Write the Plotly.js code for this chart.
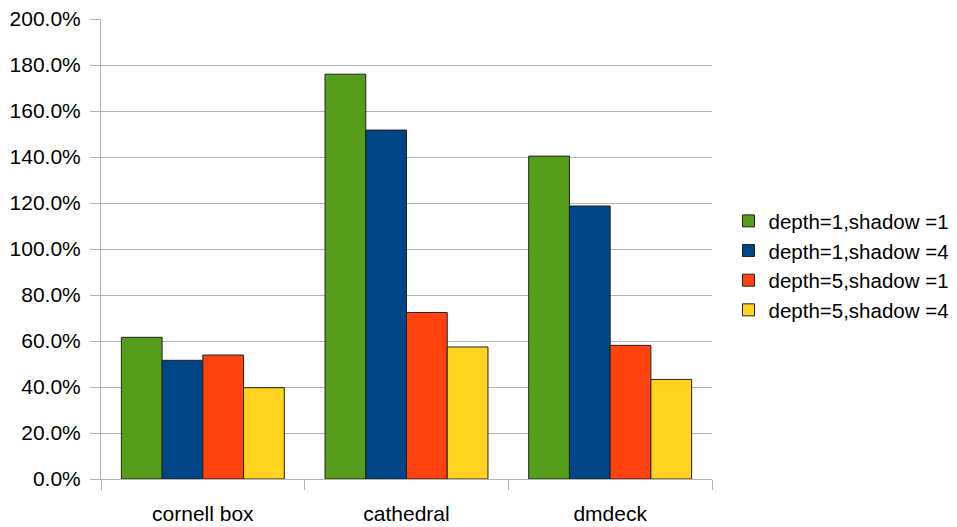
<!DOCTYPE html>
<html>
<head>
<meta charset="utf-8">
<script src="https://cdn.plot.ly/plotly-3.0.1.min.js"></script>
<style>
  html, body { margin: 0; padding: 0; background: #fff; }
  #chart { width: 957px; height: 527px; }
</style>
</head>
<body>
<div id="chart"></div>
<script>
// Scenes on the x axis
const scenes = ['cornell box', 'cathedral', 'dmdeck'];

// Series names (render settings)
const seriesNames = [
  'depth=1,shadow =1',
  'depth=1,shadow =4',
  'depth=5,shadow =1',
  'depth=5,shadow =4'
];

// Ratios per scene, one array per series
const d1s1 = [0.616, 1.760, 1.404];
const d1s4 = [0.516, 1.517, 1.187];
const d5s1 = [0.539, 0.724, 0.581];
const d5s4 = [0.397, 0.574, 0.433];

const seriesValues = [d1s1, d1s4, d5s1, d5s4];
const seriesColors = ['#579d1c', '#004586', '#ff420e', '#ffd320'];

const traces = seriesNames.map((name, i) => ({
  type: 'bar',
  name: name,
  x: scenes,
  y: seriesValues[i],
  marker: {
    color: seriesColors[i],
    line: { color: '#222222', width: 1 }
  },
  hoverinfo: 'x+y+name'
}));

const layout = {
  width: 957,
  height: 527,
  margin: { l: 101, r: 245, t: 19, b: 48, autoexpand: false },
  paper_bgcolor: '#ffffff',
  plot_bgcolor: '#ffffff',
  font: { family: 'Liberation Sans, Arial, sans-serif', size: 21, color: '#000000' },
  barmode: 'group',
  bargap: 0.2,
  bargroupgap: 0,
  showlegend: true,
  legend: {
    x: 1.027,
    xanchor: 'left',
    y: 0.464,
    yanchor: 'middle',
    font: { size: 20.5, color: '#000000' },
    bgcolor: 'rgba(0,0,0,0)'
  },
  xaxis: {
    type: 'category',
    tickson: 'boundaries',
    ticks: 'outside',
    ticklen: 10,
    tickcolor: '#b3b3b3',
    tickwidth: 1,
    ticklabelstandoff: 16,
    showline: true,
    linecolor: '#b3b3b3',
    linewidth: 1,
    showgrid: false,
    tickfont: { size: 21, color: '#000000' }
  },
  yaxis: {
    range: [0, 2],
    dtick: 0.2,
    tick0: 0,
    tickformat: '.1%',
    ticks: 'outside',
    ticklen: 10,
    tickcolor: '#b3b3b3',
    tickwidth: 1,
    ticklabelstandoff: 5,
    showline: true,
    linecolor: '#b3b3b3',
    linewidth: 1,
    showgrid: true,
    gridcolor: '#b3b3b3',
    gridwidth: 1,
    zeroline: false,
    tickfont: { size: 21, color: '#000000' }
  }
};

Plotly.newPlot('chart', traces, layout, { displayModeBar: false, staticPlot: true });
</script>
</body>
</html>
